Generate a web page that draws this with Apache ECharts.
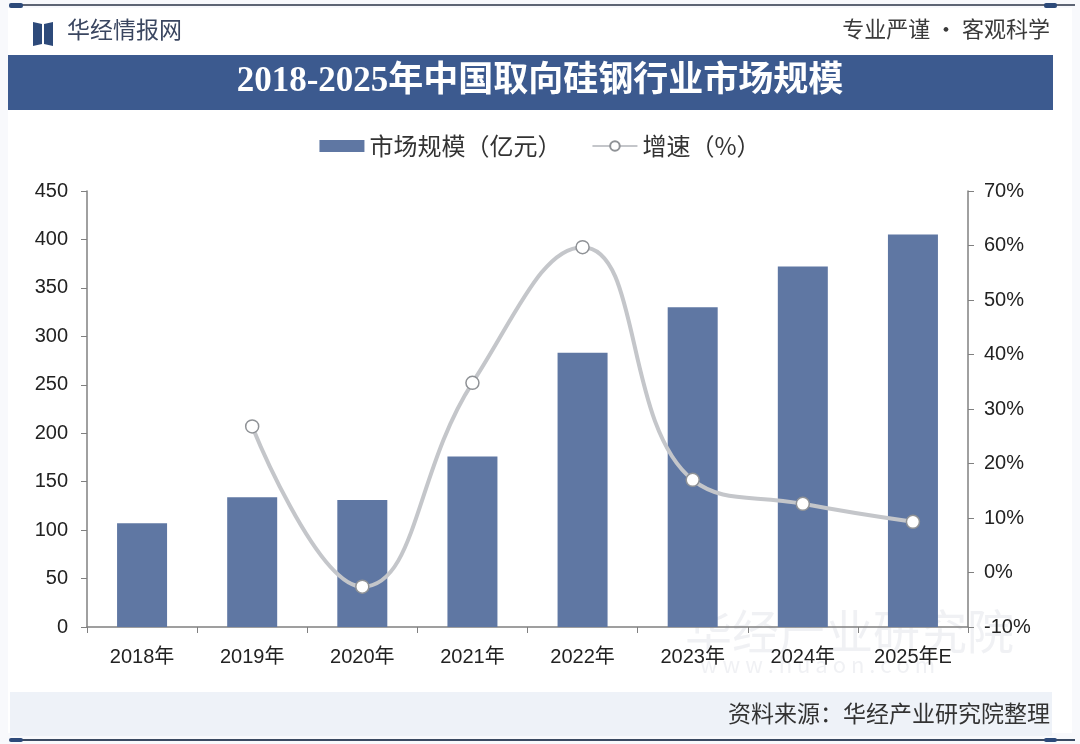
<!DOCTYPE html>
<html><head><meta charset="utf-8">
<script src="https://cdn.jsdelivr.net/npm/echarts@6/dist/echarts.min.js"></script>
<style>html,body{margin:0;padding:0;background:#f8f9fc;}#c{width:1080px;height:744px;}</style>
</head><body><div id="c"></div>
<script>
const categories = ['2018年','2019年','2020年','2021年','2022年','2023年','2024年','2025年E'];
const marketSize = [107, 134, 131, 176, 283, 330, 372, 405];
const growthRate = [null, 26.8, -2.6, 34.8, 59.7, 17.0, 12.6, 9.3];
const leftTicks = [0,50,100,150,200,250,300,350,400,450];
const rightTicks = [-10,0,10,20,30,40,50,60,70];

const chart = echarts.init(document.getElementById('c'));
const font = '"Noto Sans CJK SC", "Noto Sans", sans-serif';
const numFont = '"Liberation Sans", "Noto Sans CJK SC", sans-serif';
chart.setOption({
  backgroundColor: '#f8f9fc',
  textStyle: {fontFamily: font},
  graphic: [
    {type:'rect', z:0, shape:{x:8,y:8,width:1064,height:725}, style:{fill:'#ffffff'}},
    {type:'rect', shape:{x:10,y:4,width:1065,height:2}, style:{fill:'#5d6474'}},
    {type:'rect', shape:{x:9,y:3,width:14,height:5,r:2}, style:{fill:'#2d4a7a'}},
    {type:'rect', shape:{x:1044,y:3,width:13,height:5,r:2}, style:{fill:'#2d4a7a'}},
    {type:'polygon', shape:{points:[[33,22],[42,24],[42,44],[33,46]]}, style:{fill:'#2d4a7a'}},
    {type:'polygon', shape:{points:[[44,24],[53,22],[53,46],[44,44]]}, style:{fill:'#2d4a7a'}},
    {type:'text', left:67, top:18, style:{text:'华经情报网', font:'23px '+font, fill:'#3a4660'}},
    {type:'text', right:30, top:18, style:{text:'专业严谨 • 客观科学', font:'22px '+font, fill:'#3a3a3a'}},
    {type:'rect', shape:{x:8,y:55,width:1045,height:55}, style:{fill:'#3c5a8f'}},
    {type:'text', left:'center', top:64, style:{text:'2018-2025年中国取向硅钢行业市场规模', font:'bold 35px "Liberation Serif", "Noto Sans CJK SC", serif', fill:'#ffffff'}},
    {type:'text', left:685, top:608, z:0, style:{text:'华经产业研究院', font:'47px '+font, fill:'rgba(205,210,220,0.3)'}},
    {type:'text', left:700, top:654, z:0, style:{text:'w w w . h u a o n . c o m', font:'22px '+font, fill:'rgba(205,210,220,0.3)'}},
    {type:'rect', shape:{x:10,y:692,width:1042,height:44}, style:{fill:'#eef2f8'}},
    {type:'text', right:30, top:702, style:{text:'资料来源：华经产业研究院整理', font:'23px '+font, fill:'#333333'}},
    {type:'rect', shape:{x:10,y:739,width:1065,height:2}, style:{fill:'#3a4a62'}},
    {type:'rect', shape:{x:9,y:738,width:14,height:4,r:2}, style:{fill:'#2d4a7a'}},
    {type:'rect', shape:{x:1044,y:738,width:13,height:4,r:2}, style:{fill:'#2d4a7a'}}
  ],
  legend: {
    top: 129, left: 'center', itemGap: 30, itemWidth: 45, itemHeight: 12,
    textStyle: {fontSize: 24, color: '#333', fontFamily: font},
    data: [{name:'市场规模（亿元）', icon:'rect'}, {name:'增速（%）'}]
  },
  grid: {left: 87, right: 112, top: 191, bottom: 117},
  xAxis: {
    type: 'category', data: categories,
    axisLine: {lineStyle: {color: '#808080', width: 1.5}},
    axisTick: {show: true, length: 6, lineStyle: {color: '#808080'}},
    axisLabel: {fontSize: 20, color: '#222', margin: 20, fontFamily: numFont}
  },
  yAxis: [
    {type:'value', min:0, max:450, interval:50,
     axisLine:{show:true, lineStyle:{color:'#808080', width:1.5}},
     axisTick:{show:true, length:6, lineStyle:{color:'#808080'}},
     splitLine:{show:false},
     axisLabel:{fontSize:20, color:'#222', margin:19, fontFamily: numFont}},
    {type:'value', min:-10, max:70, interval:10, position:'right',
     axisLine:{show:true, lineStyle:{color:'#808080', width:1.5}},
     axisTick:{show:true, length:6, lineStyle:{color:'#808080'}},
     splitLine:{show:false},
     axisLabel:{fontSize:20, color:'#222', margin:16, fontFamily: numFont, formatter:'{value}%'}}
  ],
  series: [
    {name:'市场规模（亿元）', type:'bar', data: marketSize, barWidth: 50,
     itemStyle:{color:'#5f77a3'}},
    {name:'增速（%）', type:'line', yAxisIndex:1, data: growthRate, smooth:0.45,
     connectNulls:false,
     lineStyle:{color:'#c4c6ca', width:4},
     symbol:'circle', symbolSize:13,
     itemStyle:{color:'#ffffff', borderColor:'#8f9296', borderWidth:1.5}}
  ]
});
</script></body></html>
